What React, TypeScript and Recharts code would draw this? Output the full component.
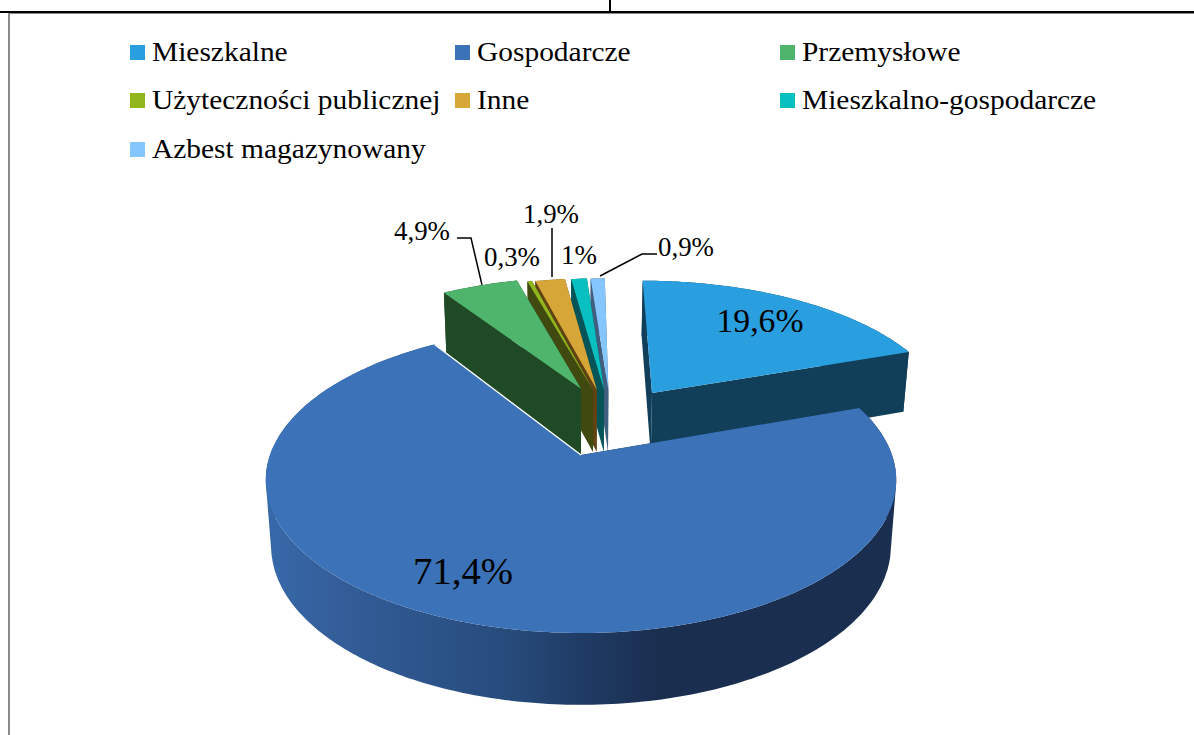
import React from 'react'
import { PieChart, Pie, Legend } from 'recharts'

const NAMES = ['Mieszkalne', 'Gospodarcze', 'Przemysłowe', 'Użyteczności publicznej', 'Inne', 'Mieszkalno-gospodarcze', 'Azbest magazynowany']
const VALUES = [19.6, 71.4, 4.9, 0.3, 1.9, 1, 0.9]

const TOP_COLORS = ['#2A9FDF', '#3B72B8', '#4FB46C', '#92B71D', '#D6A738', '#08C0C0', '#86C6FF']
const SIDE_COLORS = ['#113F59', 'url(#frontWall)', '#204A26', '#404A10', '#5F4313', '#055458', '#405F7F']

// paint order: back slices first, big front slice last. the pie runs anticlockwise from the end of Mieszkalne
const DRAW_ORDER = [0, 6, 5, 4, 3, 2, 1]

// how far each slice is pulled out, in pie radii on the pie's own plane
const PULL_U = [0.245, 0, 0, 0.042, 0.055, 0.08, 0.095]
const PULL_V = [0.446, 0, 0.48, 0.47, 0.47, 0.47, 0.47]

// value label placement: centre x, baseline y, font size, text width
const LABEL_X = [760, 463, 422, 512, 551, 579, 686]
const LABEL_Y = [332, 584, 240, 266, 223, 264, 256]
const LABEL_SIZE = [34, 38, 27, 27, 27, 27, 27]
const LABEL_W = [87, 100, 56, 56, 56, 36, 56]

const LEADERS: Record<number, string> = {
  2: '457,238 471,238 482,285',
  4: '552,228 552,277',
  6: '657,254 642,254 600,276',
}

const SERIF = '"Liberation Serif", serif'
const FLATTEN = 0.479
const PERSPECTIVE = 0.163

const tableRows = DRAW_ORDER.map((i) => ({ name: NAMES[i], value: VALUES[i], fill: TOP_COLORS[i] }))
const pieStart = 90 - VALUES[0] * 3.6

type Pt = { x: number; y: number; w: number }

function project(cx: number, cy: number, r: number, u: number, v: number): Pt {
  const w = 1 + PERSPECTIVE * v
  return { x: cx + (r * u) / w, y: cy - (r * FLATTEN * v) / w, w }
}

function lower(cx: number, p: Pt, extra = 0): Pt {
  return { x: cx + (p.x - cx) * 0.983, y: p.y + 107 - 42 * p.w + extra, w: p.w }
}

const toPath = (pts: { x: number; y: number }[]) =>
  'M' + pts.map((p) => `${p.x.toFixed(1)},${p.y.toFixed(1)}`).join('L') + 'Z'

// wall as one quad per arc step, all wound the same way so overlaps do not cancel
function wallPath(arc: Pt[], low: Pt[]) {
  let d = ''
  for (let s = 0; s < arc.length - 1; s++) {
    const quad = [arc[s], arc[s + 1], low[s + 1], low[s]]
    let area = 0
    quad.forEach((p, k) => {
      const q = quad[(k + 1) % 4]
      area += p.x * q.y - q.x * p.y
    })
    d += toPath(area < 0 ? quad.reverse() : quad)
  }
  return d
}

function Slice(props: any) {
  const { cx, cy, outerRadius, startAngle, endAngle, name } = props
  const i = NAMES.indexOf(name ?? props.payload?.name)
  const from = 90 - startAngle
  const to = 90 - endAngle
  const pu = PULL_U[i]
  const pv = PULL_V[i]
  const at = (deg: number) => {
    const a = (deg * Math.PI) / 180
    return project(cx, cy, outerRadius, pu + Math.sin(a), pv + Math.cos(a))
  }
  const apex = project(cx, cy, outerRadius, pu, pv)
  const arc: Pt[] = []
  const steps = Math.max(2, Math.ceil(Math.abs(to - from)))
  for (let s = 0; s <= steps; s++) arc.push(at(from + ((to - from) * s) / steps))

  const first = arc[0]
  const last = arc[arc.length - 1]
  const side = SIDE_COLORS[i]
  const faceColor = i === 1 ? '#1a2e50' : side
  const extra = i === 2 ? 4 : 0 // Gospodarcze trims this wall

  return (
    <g>
      {i === 1 && (
        <defs>
          <linearGradient id="frontWall" gradientUnits="userSpaceOnUse" x1="266" x2="900" y1="0" y2="0">
            <stop offset="0" stopColor="#3769A9" />
            <stop offset="0.1" stopColor="#345F9B" />
            <stop offset="0.39" stopColor="#264A7A" />
            <stop offset="0.56" stopColor="#1C3459" />
            <stop offset="0.62" stopColor="#1A2E50" />
            <stop offset="1" stopColor="#1A2E50" />
          </linearGradient>
        </defs>
      )}
      <path d={toPath([apex, first, lower(cx, first, extra), lower(cx, apex, extra)])} fill={faceColor} />
      <path d={toPath([apex, last, lower(cx, last, extra), lower(cx, apex, extra)])} fill={faceColor} />
      <path d={wallPath(arc, arc.map((p) => lower(cx, p, extra)))} fill={side} />
      <path d={toPath([apex, ...arc])} fill={TOP_COLORS[i]} />
      {i === 1 && <line x1={apex.x} y1={apex.y} x2={first.x} y2={first.y} stroke="#fff" strokeWidth={1.2} />}
    </g>
  )
}

function ValueLabel(props: any) {
  const i = DRAW_ORDER[props.index]
  const text = String(VALUES[i]).replace('.', ',') + '%'
  return (
    <g>
      {LEADERS[i] && <polyline points={LEADERS[i]} fill="none" stroke="#000" strokeWidth={1.5} />}
      <text
        x={LABEL_X[i]}
        y={LABEL_Y[i]}
        textAnchor="middle"
        fontFamily={SERIF}
        fontSize={LABEL_SIZE[i]}
        textLength={LABEL_W[i]}
        lengthAdjust="spacingAndGlyphs"
        fill="#000"
      >
        {text}
      </text>
    </g>
  )
}

function LegendBlock() {
  return (
    <div style={{ display: 'grid', gridTemplateColumns: 'repeat(3, 325px)', gridAutoRows: '48.5px', fontFamily: SERIF, fontSize: 27, color: '#000' }}>
      {NAMES.map((name, i) => (
        <div key={name} style={{ display: 'flex', alignItems: 'center', whiteSpace: 'nowrap' }}>
          <span style={{ width: 15, height: 15, marginRight: 7, background: TOP_COLORS[i], flex: 'none' }} />
          <span style={{ display: 'inline-block', transform: 'scaleX(1.09)', transformOrigin: 'left center' }}>{name}</span>
        </div>
      ))}
    </div>
  )
}

function Frame() {
  const line = (style: React.CSSProperties) => <div style={{ position: 'absolute', ...style }} />
  return (
    <>
      {line({ left: 0, top: 11, width: 1194, height: 1.5, background: '#000' })}
      {line({ left: 609, top: 0, width: 1.5, height: 11, background: '#000' })}
      {line({ left: 8, top: 13, width: 1186, height: 1, background: '#8a8a8a' })}
      {line({ left: 8, top: 13, width: 1.5, height: 722, background: '#8a8a8a' })}
    </>
  )
}

export default function App() {
  return (
    <div style={{ position: 'absolute', left: 0, top: 0, width: 1194, height: 735, overflow: 'hidden', background: '#fff' }}>
      <Frame />
      <PieChart width={1194} height={735} margin={{ top: 0, right: 0, bottom: 0, left: 0 }}>
        <Legend
          layout="horizontal"
          verticalAlign="middle"
          content={() => <LegendBlock />}
          wrapperStyle={{ left: 130, top: 28, width: 1000 }}
        />
        <Pie
          data={tableRows}
          dataKey="value"
          nameKey="name"
          cx={581}
          cy={455}
          innerRadius={0}
          outerRadius={311}
          startAngle={pieStart}
          endAngle={pieStart + 360}
          stroke="none"
          shape={(p: any) => <Slice {...p} />}
          label={(p: any) => <ValueLabel {...p} />}
          labelLine={false}
          isAnimationActive={false}
        />
      </PieChart>
    </div>
  )
}
